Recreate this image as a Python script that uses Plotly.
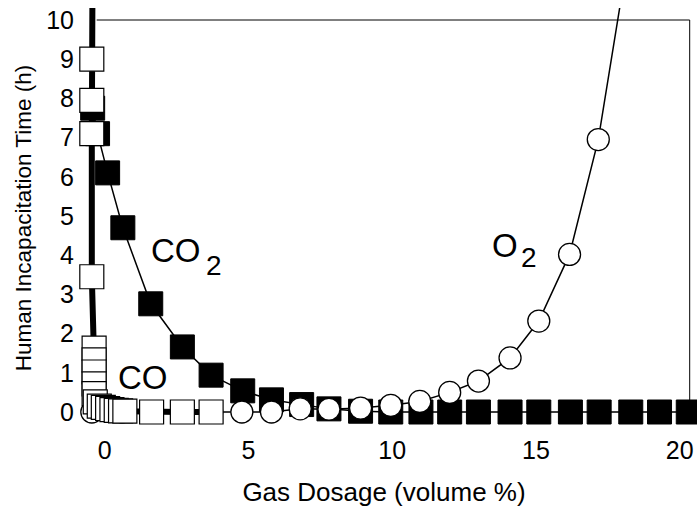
import plotly.graph_objects as go

# ---- data ----
co_x = [-0.42, -0.45, -0.45, -0.45, -0.45, -0.37, -0.37, -0.37, -0.37, -0.37, -0.33,
        -0.19, -0.05, 0.1, 0.25, 0.4, 0.55, 0.7, 1.63, 2.7, 3.7]
co_y = [12.0, 9.0, 7.95, 7.1, 3.45, 1.63, 1.33, 1.02, 0.72, 0.47, 0.26,
        0.15, 0.12, 0.09, 0.06, 0.04, 0.03, 0.02, 0.0, 0.0, 0.0]

co2_x = [-0.42, -0.25, 0.1, 0.63, 1.6, 2.7, 3.7, 4.8, 5.8, 6.85, 7.8, 8.9, 9.95,
         11.0, 12.0, 13.0, 14.1, 15.1, 16.2, 17.2, 18.3, 19.3, 20.3]
co2_y = [7.75, 7.1, 6.1, 4.7, 2.76, 1.66, 0.94, 0.54, 0.31, 0.19, 0.08, 0.02, 0.0,
         0.0, 0.0, 0.0, 0.0, 0.0, 0.0, 0.0, 0.0, 0.0, 0.0]

o2_x = [-0.45, 0.6, 1.65, 2.7, 3.72, 4.77, 5.8, 6.8, 7.8, 8.9, 9.95, 10.96, 12.0,
        13.0, 14.1, 15.1, 16.17, 17.17, 18.2]
o2_y = [0.0, 0.0, 0.0, 0.0, 0.0, 0.0, 0.0, 0.08, 0.07, 0.1, 0.17, 0.27, 0.5,
        0.79, 1.38, 2.32, 4.02, 6.95, 11.6]

x_ticks = [0, 5, 10, 15, 20]
y_ticks = [0, 1, 2, 3, 4, 5, 6, 7, 8, 9, 10]

FONT = "Liberation Sans, Arial, Helvetica, sans-serif"

fig = go.Figure()
fig.add_trace(go.Scatter(
    x=co2_x, y=co2_y, mode="lines+markers", name="CO2",
    line=dict(color="black", width=1.5),
    marker=dict(symbol="square", size=24, color="black",
                line=dict(color="black", width=1)),
    cliponaxis=False))
fig.add_trace(go.Scatter(
    x=o2_x, y=o2_y, mode="lines+markers", name="O2",
    line=dict(color="black", width=1.5),
    marker=dict(symbol="circle", size=22, color="white",
                line=dict(color="black", width=1.3))))
fig.add_trace(go.Scatter(
    x=co_x, y=co_y, mode="lines+markers", name="CO",
    line=dict(color="black", width=6),
    marker=dict(symbol="square", size=24, color="white",
                line=dict(color="black", width=1.2))))

# frame (top and right lines)
fig.add_shape(type="line", xref="x", yref="y", x0=-0.28, x1=20.35, y0=10, y1=10,
              line=dict(color="black", width=1), layer="below")
fig.add_shape(type="line", xref="x", yref="y", x0=20.35, x1=20.35, y0=10, y1=0,
              line=dict(color="black", width=1), layer="below")

labels = [
    ("CO", 2.47, 4.11, 33),
    ("2", 3.79, 3.75, 28),
    ("CO", 1.32, 0.88, 33),
    ("O", 13.91, 4.26, 33),
    ("2", 14.75, 3.95, 28),
]
for t, x, y, s in labels:
    fig.add_annotation(x=x, y=y, text=t, showarrow=False, xref="x", yref="y",
                       font=dict(family=FONT, size=s, color="black"))

fig.update_layout(
    width=697, height=507, autosize=False,
    margin=dict(l=76, r=5, t=8, b=79, pad=0),
    paper_bgcolor="white", plot_bgcolor="white",
    showlegend=False,
    font=dict(family=FONT, size=25, color="black"),
    xaxis=dict(range=[-1.0, 20.43], tickvals=x_ticks, ticktext=[str(v) for v in x_ticks],
               showgrid=False, zeroline=False, showline=False, ticks="",
               automargin=False,
               tickfont=dict(size=25), ticklabelstandoff=5,
               title=dict(text="Gas Dosage (volume %)", font=dict(size=26), standoff=20)),
    yaxis=dict(range=[-0.408, 10.306], tickvals=y_ticks, ticktext=[str(v) for v in y_ticks],
               showgrid=False, zeroline=False, showline=False, ticks="",
               automargin=False,
               tickfont=dict(size=25), ticklabelstandoff=1,
               title=dict(text="Human Incapacitation Time (h)", font=dict(size=22.5), standoff=8)),
)

# remove the page's default 8px body margin so the figure fills the window
fig.write_html("out.html",
               config={"displayModeBar": False},
               post_script="document.body.style.margin='0px';document.body.style.overflow='hidden';")
